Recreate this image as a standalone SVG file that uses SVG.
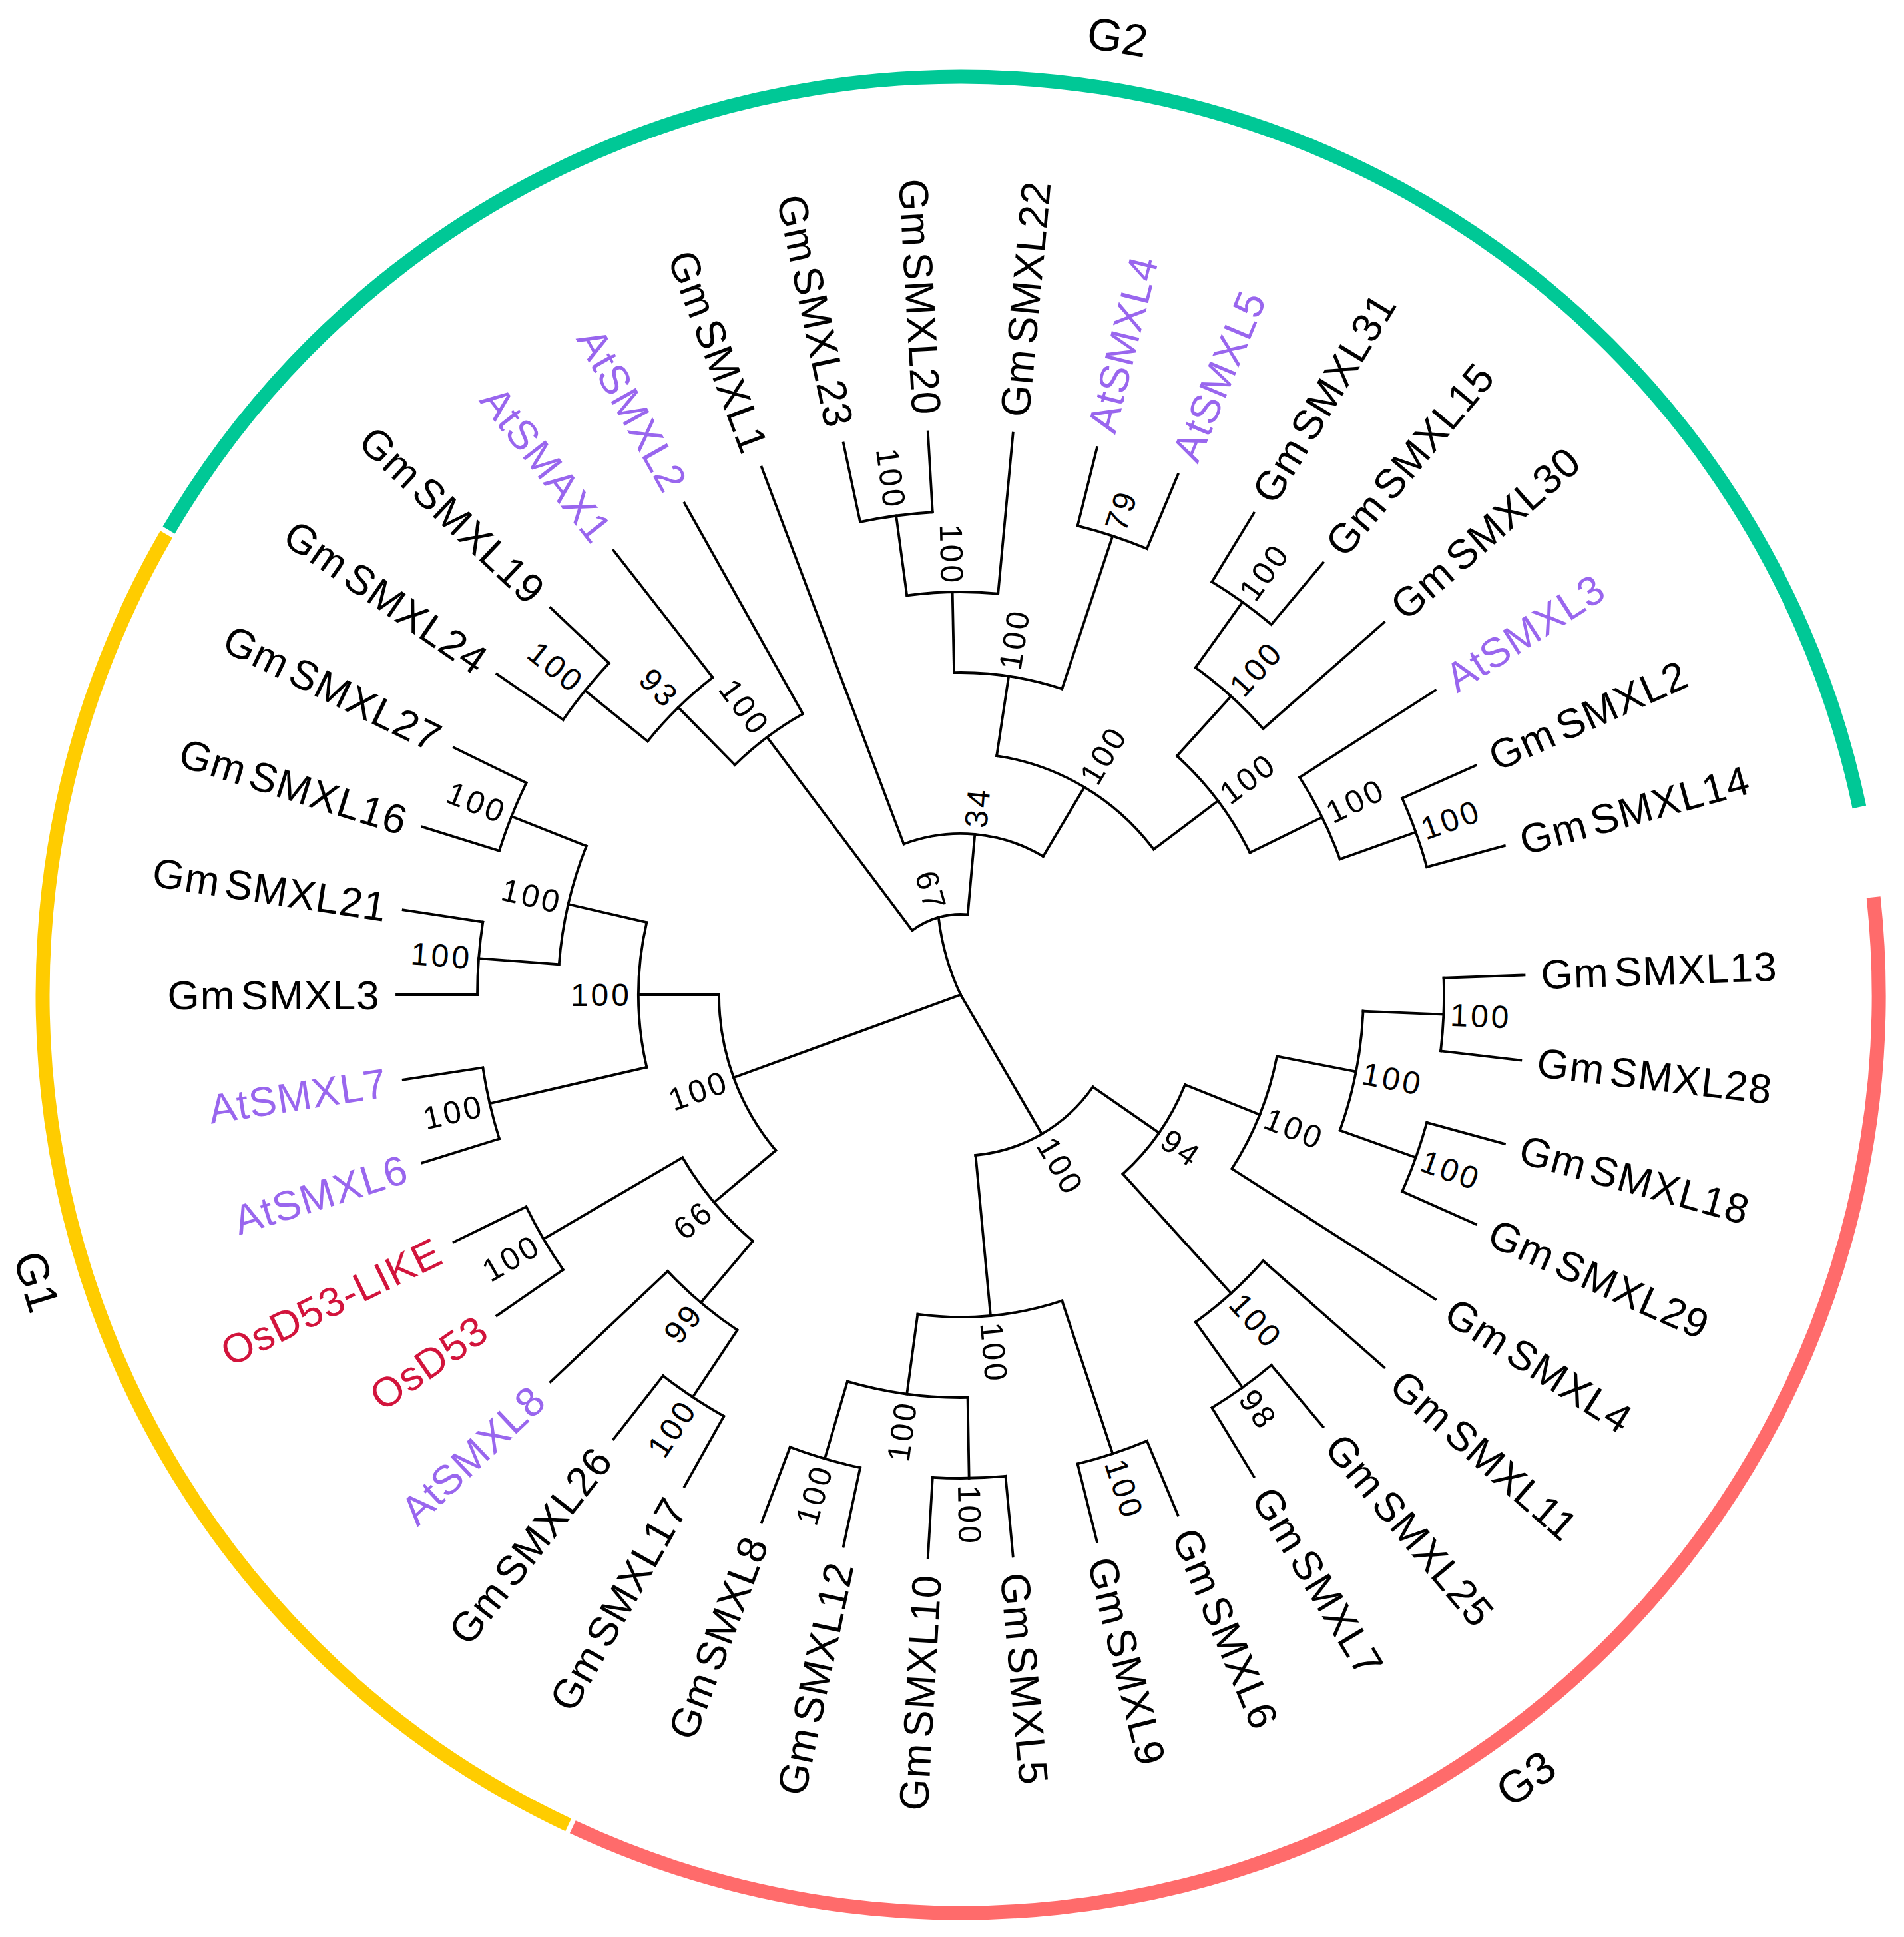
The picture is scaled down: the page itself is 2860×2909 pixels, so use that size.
<svg xmlns="http://www.w3.org/2000/svg" width="2860" height="2909" viewBox="0 0 2860 2909">
<style>
.br{stroke:#000;stroke-width:3.8;fill:none;stroke-linecap:square}
.grp{fill:none;stroke-width:21;stroke-linecap:butt}
text{font-family:"Liberation Sans",Arial,Helvetica,sans-serif;fill:#000}
.lf{font-size:62px;letter-spacing:1.2px}
.bs{font-size:48px;letter-spacing:4px}
.gl{font-size:68px}
.e{text-anchor:end}
.at{fill:#9966EE}
.os{fill:#D2143C}
</style>
<rect width="2860" height="2909" fill="#fff"/>
<g transform="translate(1443,1494)">
<g id="group-arcs">
<circle class="grp" r="1379" pathLength="360" stroke="#00C896" stroke-dasharray="137.8 400" transform="rotate(210.4)"/>
<circle class="grp" r="1379" pathLength="360" stroke="#FFCC00" stroke-dasharray="94.8 400" transform="rotate(115.3)"/>
<circle class="grp" r="1379" pathLength="360" stroke="#FF6B6B" stroke-dasharray="121.1 400" transform="rotate(353.9)"/>
</g>
<g id="group-labels">
<text class="gl" text-anchor="middle" dy=".35em" transform="rotate(279.3) translate(1458,0) rotate(90)">G2</text>
<text class="gl" text-anchor="middle" dy=".35em" transform="rotate(54.2) translate(1451,0) rotate(-90)">G3</text>
<text class="gl" text-anchor="middle" dy=".35em" transform="rotate(162.75) translate(1453,0) rotate(-90)">G1</text>
</g>
<g id="connectors" class="br">
<!-- root stems -->
<line x2="242" transform="rotate(59.75)"/>
<line x2="363" transform="rotate(159.96)"/>
<path d="M0,0 Q60,-10 121,0" transform="rotate(254.07)"/>
<!-- G3 internal stems -->
<line x1="242" x2="363" transform="rotate(34.83)"/>
<line x1="242" x2="484" transform="rotate(84.67)"/>
<line x1="363" x2="484" transform="rotate(21.83)"/>
<line x1="363" x2="605" transform="rotate(47.83)"/>
<line x1="484" x2="605" transform="rotate(11)"/>
<line x1="605" x2="726" transform="rotate(2.33)"/>
<line x1="605" x2="726" transform="rotate(19.67)"/>
<line x1="605" x2="726" transform="rotate(54.33)"/>
<line x1="484" x2="726" transform="rotate(71.67)"/>
<line x1="484" x2="605" transform="rotate(97.67)"/>
<line x1="605" x2="726" transform="rotate(89)"/>
<line x1="605" x2="726" transform="rotate(106.33)"/>
<!-- G1 internal stems -->
<line x1="363" x2="484" transform="rotate(139.92)"/>
<line x1="363" x2="484" transform="rotate(180)"/>
<line x1="484" x2="605" transform="rotate(130.17)"/>
<line x1="484" x2="726" transform="rotate(149.67)"/>
<line x1="605" x2="726" transform="rotate(123.67)"/>
<line x1="484" x2="726" transform="rotate(167)"/>
<line x1="484" x2="605" transform="rotate(193)"/>
<line x1="605" x2="726" transform="rotate(184.33)"/>
<line x1="605" x2="726" transform="rotate(201.67)"/>
<!-- G2 internal stems -->
<line x1="121" x2="484" transform="rotate(233.08)"/>
<line x1="121" x2="242" transform="rotate(275.06)"/>
<line x1="484" x2="605" transform="rotate(225.5)"/>
<line x1="605" x2="726" transform="rotate(219)"/>
<line x1="242" x2="363" transform="rotate(300.79)"/>
<line x1="363" x2="484" transform="rotate(278.58)"/>
<line x1="363" x2="484" transform="rotate(323)"/>
<line x1="484" x2="605" transform="rotate(268.83)"/>
<line x1="605" x2="726" transform="rotate(262.33)"/>
<line x1="484" x2="726" transform="rotate(288.33)"/>
<line x1="484" x2="605" transform="rotate(312.17)"/>
<line x1="605" x2="726" transform="rotate(305.67)"/>
<line x1="484" x2="605" transform="rotate(333.83)"/>
<line x1="605" x2="726" transform="rotate(340.33)"/>
<!-- leaf stems -->
<line x1="726" x2="847" transform="rotate(-2)"/>
<line x1="726" x2="847" transform="rotate(6.67)"/>
<line x1="726" x2="847" transform="rotate(15.33)"/>
<line x1="726" x2="847" transform="rotate(24)"/>
<line x1="484" x2="847" transform="rotate(32.67)"/>
<line x1="605" x2="847" transform="rotate(41.33)"/>
<line x1="726" x2="847" transform="rotate(50)"/>
<line x1="726" x2="847" transform="rotate(58.67)"/>
<line x1="726" x2="847" transform="rotate(67.33)"/>
<line x1="726" x2="847" transform="rotate(76)"/>
<line x1="726" x2="847" transform="rotate(84.67)"/>
<line x1="726" x2="847" transform="rotate(93.33)"/>
<line x1="726" x2="847" transform="rotate(102)"/>
<line x1="726" x2="847" transform="rotate(110.67)"/>
<line x1="726" x2="847" transform="rotate(119.33)"/>
<line x1="726" x2="847" transform="rotate(128)"/>
<line x1="605" x2="847" transform="rotate(136.67)"/>
<line x1="726" x2="847" transform="rotate(145.33)"/>
<line x1="726" x2="847" transform="rotate(154)"/>
<line x1="726" x2="847" transform="rotate(162.67)"/>
<line x1="726" x2="847" transform="rotate(171.33)"/>
<line x1="726" x2="847" transform="rotate(180)"/>
<line x1="726" x2="847" transform="rotate(188.67)"/>
<line x1="726" x2="847" transform="rotate(197.33)"/>
<line x1="726" x2="847" transform="rotate(206)"/>
<line x1="726" x2="847" transform="rotate(214.67)"/>
<line x1="726" x2="847" transform="rotate(223.33)"/>
<line x1="605" x2="847" transform="rotate(232)"/>
<line x1="484" x2="847" transform="rotate(240.67)"/>
<line x1="242" x2="847" transform="rotate(249.33)"/>
<line x1="726" x2="847" transform="rotate(258)"/>
<line x1="726" x2="847" transform="rotate(266.67)"/>
<line x1="605" x2="847" transform="rotate(275.33)"/>
<line x1="726" x2="847" transform="rotate(284)"/>
<line x1="726" x2="847" transform="rotate(292.67)"/>
<line x1="726" x2="847" transform="rotate(301.33)"/>
<line x1="726" x2="847" transform="rotate(310)"/>
<line x1="605" x2="847" transform="rotate(318.67)"/>
<line x1="605" x2="847" transform="rotate(327.33)"/>
<line x1="726" x2="847" transform="rotate(336)"/>
<line x1="726" x2="847" transform="rotate(344.67)"/>
<!-- node arcs -->
<circle r="726" pathLength="360" stroke-dasharray="8.67 400" transform="rotate(-2)"/>
<circle r="726" pathLength="360" stroke-dasharray="8.67 400" transform="rotate(15.33)"/>
<circle r="605" pathLength="360" stroke-dasharray="17.34 400" transform="rotate(2.33)"/>
<circle r="484" pathLength="360" stroke-dasharray="21.67 400" transform="rotate(11)"/>
<circle r="726" pathLength="360" stroke-dasharray="8.67 400" transform="rotate(50)"/>
<circle r="605" pathLength="360" stroke-dasharray="13 400" transform="rotate(41.33)"/>
<circle r="363" pathLength="360" stroke-dasharray="26 400" transform="rotate(21.83)"/>
<circle r="726" pathLength="360" stroke-dasharray="8.67 400" transform="rotate(67.33)"/>
<circle r="726" pathLength="360" stroke-dasharray="8.66 400" transform="rotate(84.67)"/>
<circle r="726" pathLength="360" stroke-dasharray="8.67 400" transform="rotate(102)"/>
<circle r="605" pathLength="360" stroke-dasharray="17.33 400" transform="rotate(89)"/>
<circle r="484" pathLength="360" stroke-dasharray="26 400" transform="rotate(71.67)"/>
<circle r="242" pathLength="360" stroke-dasharray="49.92 400" transform="rotate(34.83)"/>
<circle r="726" pathLength="360" stroke-dasharray="8.67 400" transform="rotate(119.33)"/>
<circle r="605" pathLength="360" stroke-dasharray="13 400" transform="rotate(123.67)"/>
<circle r="726" pathLength="360" stroke-dasharray="8.67 400" transform="rotate(145.33)"/>
<circle r="484" pathLength="360" stroke-dasharray="19.5 400" transform="rotate(130.17)"/>
<circle r="726" pathLength="360" stroke-dasharray="8.66 400" transform="rotate(162.67)"/>
<circle r="726" pathLength="360" stroke-dasharray="8.67 400" transform="rotate(180)"/>
<circle r="726" pathLength="360" stroke-dasharray="8.67 400" transform="rotate(197.33)"/>
<circle r="605" pathLength="360" stroke-dasharray="17.34 400" transform="rotate(184.33)"/>
<circle r="484" pathLength="360" stroke-dasharray="26 400" transform="rotate(167)"/>
<circle r="363" pathLength="360" stroke-dasharray="40.08 400" transform="rotate(139.92)"/>
<circle r="726" pathLength="360" stroke-dasharray="8.66 400" transform="rotate(214.67)"/>
<circle r="605" pathLength="360" stroke-dasharray="13 400" transform="rotate(219)"/>
<circle r="484" pathLength="360" stroke-dasharray="15.17 400" transform="rotate(225.5)"/>
<circle r="726" pathLength="360" stroke-dasharray="8.67 400" transform="rotate(258)"/>
<circle r="605" pathLength="360" stroke-dasharray="13 400" transform="rotate(262.33)"/>
<circle r="726" pathLength="360" stroke-dasharray="8.67 400" transform="rotate(284)"/>
<circle r="484" pathLength="360" stroke-dasharray="19.5 400" transform="rotate(268.83)"/>
<circle r="726" pathLength="360" stroke-dasharray="8.67 400" transform="rotate(301.33)"/>
<circle r="605" pathLength="360" stroke-dasharray="13 400" transform="rotate(305.67)"/>
<circle r="726" pathLength="360" stroke-dasharray="8.67 400" transform="rotate(336)"/>
<circle r="605" pathLength="360" stroke-dasharray="13 400" transform="rotate(327.33)"/>
<circle r="484" pathLength="360" stroke-dasharray="21.66 400" transform="rotate(312.17)"/>
<circle r="363" pathLength="360" stroke-dasharray="44.42 400" transform="rotate(278.58)"/>
<circle r="242" pathLength="360" stroke-dasharray="51.46 400" transform="rotate(249.33)"/>
<circle r="121" pathLength="360" stroke-dasharray="41.99 400" transform="rotate(233.08)"/>
</g>
<g id="bootstrap">
<g id="node-13-28"><text class="bs" x="736" dy=".35em" transform="rotate(2.33)">100</text></g>
<g id="node-18-29"><text class="bs" x="736" dy=".35em" transform="rotate(19.67)">100</text></g>
<g id="node-13-29"><text class="bs" x="615" dy=".35em" transform="rotate(11)">100</text></g>
<g id="node-13-4"><text class="bs" x="494" dy=".35em" transform="rotate(21.83)">100</text></g>
<g id="node-25-7"><text class="bs" x="736" dy=".35em" transform="rotate(54.33)">98</text></g>
<g id="node-11-7"><text class="bs" x="615" dy=".35em" transform="rotate(47.83)">100</text></g>
<g id="node-94"><text class="bs" x="373" dy=".35em" transform="rotate(34.83)">94</text></g>
<g id="node-9-6"><text class="bs" x="736" dy=".35em" transform="rotate(71.67)">100</text></g>
<g id="node-5-10"><text class="bs" x="736" dy=".35em" transform="rotate(89)">100</text></g>
<g id="node-c2"><text class="bs" x="494" dy=".35em" transform="rotate(84.67)">100</text></g>
<g id="node-g3"><text class="bs" x="252" dy=".35em" transform="rotate(59.75)">100</text></g>
<g id="node-79"><text class="bs" x="736" dy=".35em" transform="rotate(288.33)">79</text></g>
<g id="node-23-5"><text class="bs" x="494" dy=".35em" transform="rotate(278.58)">100</text></g>
<g id="node-31-15"><text class="bs" x="736" dy=".35em" transform="rotate(305.67)">100</text></g>
<g id="node-31-30"><text class="bs" x="615" dy=".35em" transform="rotate(312.17)">100</text></g>
<g id="node-2-14"><text class="bs" x="736" dy=".35em" transform="rotate(340.33)">100</text></g>
<g id="node-at3-14"><text class="bs" x="615" dy=".35em" transform="rotate(333.83)">100</text></g>
<g id="node-31-14"><text class="bs" x="494" dy=".35em" transform="rotate(323)">100</text></g>
<g id="node-g2r"><text class="bs" x="373" dy=".35em" transform="rotate(300.79)">100</text></g>
<g id="node-34"><text class="bs" x="252" dy=".35em" transform="rotate(275.06)">34</text></g>
<g id="node-12-8"><text class="bs e" x="-736" dy=".35em" transform="rotate(286.33)">100</text></g>
<g id="node-5-8"><text class="bs e" x="-615" dy=".35em" transform="rotate(277.67)">100</text></g>
<g id="node-26-17"><text class="bs e" x="-736" dy=".35em" transform="rotate(303.67)">100</text></g>
<g id="node-99"><text class="bs e" x="-615" dy=".35em" transform="rotate(310.17)">99</text></g>
<g id="node-os"><text class="bs e" x="-736" dy=".35em" transform="rotate(329.67)">100</text></g>
<g id="node-66"><text class="bs e" x="-494" dy=".35em" transform="rotate(319.92)">66</text></g>
<g id="node-at7-6"><text class="bs e" x="-736" dy=".35em" transform="rotate(347)">100</text></g>
<g id="node-21-3"><text class="bs e" x="-736" dy=".35em" transform="rotate(4.33)">100</text></g>
<g id="node-27-16"><text class="bs e" x="-736" dy=".35em" transform="rotate(21.67)">100</text></g>
<g id="node-27-3"><text class="bs e" x="-615" dy=".35em" transform="rotate(13)">100</text></g>
<g id="node-27-at6"><text class="bs e" x="-494" dy=".35em" transform="rotate(0)">100</text></g>
<g id="node-g1"><text class="bs e" x="-373" dy=".35em" transform="rotate(339.96)">100</text></g>
<g id="node-24-19"><text class="bs e" x="-736" dy=".35em" transform="rotate(39)">100</text></g>
<g id="node-93"><text class="bs e" x="-615" dy=".35em" transform="rotate(45.5)">93</text></g>
<g id="node-24-at2"><text class="bs e" x="-494" dy=".35em" transform="rotate(53.08)">100</text></g>
<g id="node-23-20"><text class="bs e" x="-736" dy=".35em" transform="rotate(82.33)">100</text></g>
<g id="node-23-22"><text class="bs e" x="-615" dy=".35em" transform="rotate(88.83)">100</text></g>
<g id="node-67"><text class="bs e" x="-131" dy=".35em" transform="rotate(74.07)">67</text></g>
</g>
<g id="leaves">
<g id="leaf-GmSMXL13"><text class="lf" x="872" dy=".35em" transform="rotate(-2)">Gm<tspan dx="8">SMXL13</tspan></text></g>
<g id="leaf-GmSMXL28"><text class="lf" x="872" dy=".35em" transform="rotate(6.67)">Gm<tspan dx="8">SMXL28</tspan></text></g>
<g id="leaf-GmSMXL18"><text class="lf" x="872" dy=".35em" transform="rotate(15.33)">Gm<tspan dx="8">SMXL18</tspan></text></g>
<g id="leaf-GmSMXL29"><text class="lf" x="872" dy=".35em" transform="rotate(24)">Gm<tspan dx="8">SMXL29</tspan></text></g>
<g id="leaf-GmSMXL4"><text class="lf" x="872" dy=".35em" transform="rotate(32.67)">Gm<tspan dx="8">SMXL4</tspan></text></g>
<g id="leaf-GmSMXL11"><text class="lf" x="872" dy=".35em" transform="rotate(41.33)">Gm<tspan dx="8">SMXL11</tspan></text></g>
<g id="leaf-GmSMXL25"><text class="lf" x="872" dy=".35em" transform="rotate(50)">Gm<tspan dx="8">SMXL25</tspan></text></g>
<g id="leaf-GmSMXL7"><text class="lf" x="872" dy=".35em" transform="rotate(58.67)">Gm<tspan dx="8">SMXL7</tspan></text></g>
<g id="leaf-GmSMXL6"><text class="lf" x="872" dy=".35em" transform="rotate(67.33)">Gm<tspan dx="8">SMXL6</tspan></text></g>
<g id="leaf-GmSMXL9"><text class="lf" x="872" dy=".35em" transform="rotate(76)">Gm<tspan dx="8">SMXL9</tspan></text></g>
<g id="leaf-GmSMXL5"><text class="lf" x="872" dy=".35em" transform="rotate(84.67)">Gm<tspan dx="8">SMXL5</tspan></text></g>
<g id="leaf-GmSMXL10"><text class="lf e" x="-872" dy=".35em" transform="rotate(273.33)">Gm<tspan dx="8">SMXL10</tspan></text></g>
<g id="leaf-GmSMXL12"><text class="lf e" x="-872" dy=".35em" transform="rotate(282)">Gm<tspan dx="8">SMXL12</tspan></text></g>
<g id="leaf-GmSMXL8"><text class="lf e" x="-872" dy=".35em" transform="rotate(290.67)">Gm<tspan dx="8">SMXL8</tspan></text></g>
<g id="leaf-GmSMXL17"><text class="lf e" x="-872" dy=".35em" transform="rotate(299.33)">Gm<tspan dx="8">SMXL17</tspan></text></g>
<g id="leaf-GmSMXL26"><text class="lf e" x="-872" dy=".35em" transform="rotate(308)">Gm<tspan dx="8">SMXL26</tspan></text></g>
<g id="leaf-AtSMXL8"><text class="lf e at" x="-872" dy=".35em" transform="rotate(316.67)">AtSMXL8</text></g>
<g id="leaf-OsD53"><text class="lf e os" x="-872" dy=".35em" transform="rotate(325.33)">OsD53</text></g>
<g id="leaf-OsD53-LIKE"><text class="lf e os" x="-872" dy=".35em" transform="rotate(334)">OsD53-LIKE</text></g>
<g id="leaf-AtSMXL6"><text class="lf e at" x="-872" dy=".35em" transform="rotate(342.67)">AtSMXL6</text></g>
<g id="leaf-AtSMXL7"><text class="lf e at" x="-872" dy=".35em" transform="rotate(351.33)">AtSMXL7</text></g>
<g id="leaf-GmSMXL3"><text class="lf e" x="-872" dy=".35em" transform="rotate(0)">Gm<tspan dx="8">SMXL3</tspan></text></g>
<g id="leaf-GmSMXL21"><text class="lf e" x="-872" dy=".35em" transform="rotate(8.67)">Gm<tspan dx="8">SMXL21</tspan></text></g>
<g id="leaf-GmSMXL16"><text class="lf e" x="-872" dy=".35em" transform="rotate(17.33)">Gm<tspan dx="8">SMXL16</tspan></text></g>
<g id="leaf-GmSMXL27"><text class="lf e" x="-872" dy=".35em" transform="rotate(26)">Gm<tspan dx="8">SMXL27</tspan></text></g>
<g id="leaf-GmSMXL24"><text class="lf e" x="-872" dy=".35em" transform="rotate(34.67)">Gm<tspan dx="8">SMXL24</tspan></text></g>
<g id="leaf-GmSMXL19"><text class="lf e" x="-872" dy=".35em" transform="rotate(43.33)">Gm<tspan dx="8">SMXL19</tspan></text></g>
<g id="leaf-AtSMAX1"><text class="lf e at" x="-872" dy=".35em" transform="rotate(52)">AtSMAX1</text></g>
<g id="leaf-AtSMXL2"><text class="lf e at" x="-872" dy=".35em" transform="rotate(60.67)">AtSMXL2</text></g>
<g id="leaf-GmSMXL1"><text class="lf e" x="-872" dy=".35em" transform="rotate(69.33)">Gm<tspan dx="8">SMXL1</tspan></text></g>
<g id="leaf-GmSMXL23"><text class="lf e" x="-872" dy=".35em" transform="rotate(78)">Gm<tspan dx="8">SMXL23</tspan></text></g>
<g id="leaf-GmSMXL20"><text class="lf e" x="-872" dy=".35em" transform="rotate(86.67)">Gm<tspan dx="8">SMXL20</tspan></text></g>
<g id="leaf-GmSMXL22"><text class="lf" x="872" dy=".35em" transform="rotate(275.33)">Gm<tspan dx="8">SMXL22</tspan></text></g>
<g id="leaf-AtSMXL4"><text class="lf at" x="872" dy=".35em" transform="rotate(284)">AtSMXL4</text></g>
<g id="leaf-AtSMXL5"><text class="lf at" x="872" dy=".35em" transform="rotate(292.67)">AtSMXL5</text></g>
<g id="leaf-GmSMXL31"><text class="lf" x="872" dy=".35em" transform="rotate(301.33)">Gm<tspan dx="8">SMXL31</tspan></text></g>
<g id="leaf-GmSMXL15"><text class="lf" x="872" dy=".35em" transform="rotate(310)">Gm<tspan dx="8">SMXL15</tspan></text></g>
<g id="leaf-GmSMXL30"><text class="lf" x="872" dy=".35em" transform="rotate(318.67)">Gm<tspan dx="8">SMXL30</tspan></text></g>
<g id="leaf-AtSMXL3"><text class="lf at" x="872" dy=".35em" transform="rotate(327.33)">AtSMXL3</text></g>
<g id="leaf-GmSMXL2"><text class="lf" x="872" dy=".35em" transform="rotate(336)">Gm<tspan dx="8">SMXL2</tspan></text></g>
<g id="leaf-GmSMXL14"><text class="lf" x="872" dy=".35em" transform="rotate(344.67)">Gm<tspan dx="8">SMXL14</tspan></text></g>
</g>
</g>
</svg>
